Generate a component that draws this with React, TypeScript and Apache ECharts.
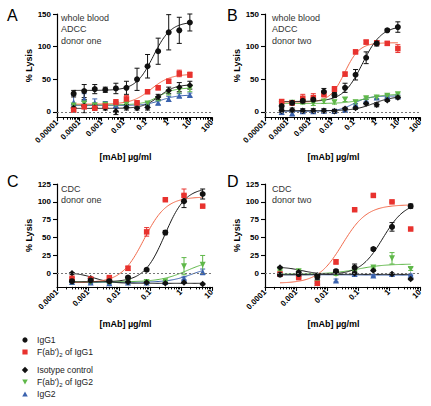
import React, { useEffect, useRef } from "react";
import * as echarts from "echarts";

// ---------- data ----------
const seriesNames = ["IgG1", "F(ab')2 of IgG1", "Isotype control", "F(ab')2 of IgG2", "IgG2"];

// concentrations (µg/ml)
const concAB = [0.0000565, 0.000169, 0.000508, 0.00152, 0.00457, 0.0137, 0.0412, 0.123, 0.37, 1.11, 3.33, 10];
const concCD = [0.000305, 0.00122, 0.00488, 0.0195, 0.078, 0.3125, 1.25, 5];

const xTickLabelsAB = ["0.00001", "0.0001", "0.001", "0.01", "0.1", "1", "10", "100"];
const xTickLabelsCD = ["0.0001", "0.001", "0.01", "0.1", "1", "10"];
const yTicksAB = [0, 50, 100, 150];
const yTicksCD = [0, 25, 50, 75, 100, 125];

// Panel A: whole blood ADCC donor one
const aIgG1 = [28, 32, 35, 34, 36, 37, 50, 70, 93, 122, 125, 137];
const aIgG1Err = [5, 10, 7, 4, 8, 10, 17, 18, 20, 27, 20, 13];
const aFab1 = [3, 8, 6, 9, 15, 20, 14, 31, 37, 47, 59, 57];
const aFab1Err = [3, 3, 3, 4, 4, 5, 3, 3, 3, 3, 5, 4];
const aIso = [6, 9, 7, 6, 1, 7, 6, 7, 23, 33, 38, 41];
const aIsoErr = [3, 10, 4, 3, 5, 4, 3, 4, 4, 5, 7, 6];
const aFab2 = [10, 13, 10, 11, 12, 12, 11, 13, 20, 30, 34, 36];
const aFab2Err = [3, 5, 4, 3, 3, 3, 3, 3, 3, 4, 5, 5];
const aIgG2 = [15, 20, 14, 12, 10, 11, 9, 11, 14, 20, 25, 26];
const aIgG2Err = [10, 8, 6, 4, 3, 3, 3, 3, 3, 4, 3, 3];
// fitted curves: [left plateau, right plateau, log10 EC50, Hill slope]
const aFits = [[33, 138, -0.65, 1.1], [12, 58, -0.75, 1.0], [5.5, 42, -0.4, 1.2], [11, 37, -0.4, 1.2], [10, 26, -0.3, 1.2]];

// Panel B: whole blood ADCC donor two
const bIgG1 = [9, 14, 17, 19, 31, 26, 37, 57, 83, 105, 125, 130];
const bIgG1Err = [5, 3, 3, 3, 5, 4, 7, 8, 9, 4, 2, 8];
const bFab1 = [16, 14, 21, 22, 27, 35, 58, 92, 107, 106, 105, 97];
const bFab1Err = [3, 3, 6, 6, 4, 4, 3, 3, 3, 3, 3, 6];
const bIso = [2, 3, 2, 2, 2, 1, 5, 6, 13, 11, 18, 22];
const bIsoErr = [3, 3, 3, 3, 3, 3, 2, 2, 2, 3, 2, 2];
const bFab2 = [12, 14, 15, 13, 16, 15, 19, 15, 21, 22, 25, 27];
const bFab2Err = [3, 3, 3, 3, 3, 3, 3, 3, 2, 2, 2, 2];
const bIgG2 = [0, -2, 1, 1, 2, 2, 3, 11, 17, 22, 24, 24];
const bIgG2Err = [4, 4, 3, 2, 2, 2, 2, 2, 2, 2, 2, 2];
const bFits = [[16, 132, -0.6, 1.0], [15, 106, -1.4, 1.3], [2, 24, -0.1, 1.0], [13, 27, -0.5, 1.0], [1, 24.5, -1.0, 1.3]];

// Panel C: CDC donor one
const cIgG1 = [-11, -10, -11, -6, 5, 57, 101, 111];
const cIgG1Err = [1, 1, 1, 2, 2, 3, 9, 7];
const cFab1 = [-7, -8, -6, 7, 58, 103, 109, 94];
const cFab1Err = [1, 1, 1, 3, 6, 1, 9, 1];
const cIso = [0, -7, -10, -12, -13, -14, -13, -15];
const cIsoErr = [1, 1, 1, 1, 1, 1, 1, 1];
const cFab2 = [-12, -12, -13, -12, -12, -11, 10, 12];
const cFab2Err = [1, 1, 1, 1, 1, 1, 12, 13];
const cIgG2 = [-12, -13, -14, -13, -13, -12, -7, 2];
const cIgG2Err = [1, 1, 1, 1, 1, 1, 2, 4];
const cFits = [[-12, 120, -0.52, 1.3], [-13, 107, -1.2, 1.2], [1, -14, -2.8, 1.5], [-12, 20, 0.2, 1.0], [-12.5, 10, 0.35, 1.2]];

// Panel D: CDC donor two
const dIgG1 = [-2, -1, -5, 3, 8, 34, 65, 94];
const dIgG1Err = [1, 1, 4, 2, 5, 2, 6, 3];
const dFab1 = [-1, -6, -14, 16, 89, 109, 100, 62];
const dFab1Err = [2, 1, 3, 3, 1, 1, 1, 1];
const dIso = [8, 2, -3, 2, 0, 4, -1, -8];
const dIsoErr = [1, 1, 1, 1, 1, 1, 1, 1];
const dFab2 = [3, 3, -14, -1, 3, 8, 21, 6];
const dFab2Err = [1, 2, 3, 2, 1, 1, 8, 2];
const dIgG2 = [-1, -1, -11, -10, -1, -3, -1, -2];
const dIgG2Err = [1, 1, 2, 2, 1, 1, 1, 1];
const dFits = [[-2, 100, -0.2, 1.2], [-14, 96, -1.5, 1.1], [9, -1.5, -2.8, 1.5], [-1, 13, -1.0, 1.0], [-2, -2.5, -1.0, 1.0]];

// ---------- styling ----------
const FONT = "Liberation Sans, Arial, Helvetica, sans-serif";
const COLORS = ["#111111", "#e8322e", "#111111", "#5fb849", "#3a62ae"];
const CURVE_COLORS = ["#1a1a1a", "#f26a4b", "#1a1a1a", "#5fb849", "#3a62ae"];
const SYMBOLS = ["circle", "rect", "diamond", "triangle", "triangle"];
const ROTATE = [0, 0, 0, 180, 0];
const SIZES = [6, 5.5, 6.5, 6, 6];

const panels = [
  {
    letter: "A", note: "whole blood\nADCC\ndonor one", conc: concAB, xLabels: xTickLabelsAB,
    expMin: -5, expMax: 2, xMin: 0.00001, xMax: 100, yMin: -8, yMax: 150, yTicks: yTicksAB,
    values: [aIgG1, aFab1, aIso, aFab2, aIgG2], errors: [aIgG1Err, aFab1Err, aIsoErr, aFab2Err, aIgG2Err], fits: aFits,
    grid: { left: 57, top: 14, width: 155, height: 103.2 }, letterPos: [7, 7], notePos: [61, 12], nameGap: 35,
  },
  {
    letter: "B", note: "whole blood\nADCC\ndonor two", conc: concAB, xLabels: xTickLabelsAB,
    expMin: -5, expMax: 2, xMin: 0.00001, xMax: 100, yMin: -8, yMax: 150, yTicks: yTicksAB,
    values: [bIgG1, bFab1, bIso, bFab2, bIgG2], errors: [bIgG1Err, bFab1Err, bIsoErr, bFab2Err, bIgG2Err], fits: bFits,
    grid: { left: 265, top: 14, width: 155, height: 103.2 }, letterPos: [227, 7], notePos: [272, 12], nameGap: 35,
  },
  {
    letter: "C", note: "CDC\ndonor one", conc: concCD, xLabels: xTickLabelsCD,
    expMin: -4, expMax: 1, xMin: 0.0001, xMax: 10, yMin: -19, yMax: 125, yTicks: yTicksCD,
    values: [cIgG1, cFab1, cIso, cFab2, cIgG2], errors: [cIgG1Err, cFab1Err, cIsoErr, cFab2Err, cIgG2Err], fits: cFits,
    grid: { left: 57, top: 184, width: 155, height: 102.9 }, letterPos: [7, 173], notePos: [61, 183], nameGap: 33,
  },
  {
    letter: "D", note: "CDC\ndonor two", conc: concCD, xLabels: xTickLabelsCD,
    expMin: -4, expMax: 1, xMin: 0.0001, xMax: 10, yMin: -19, yMax: 125, yTicks: yTicksCD,
    values: [dIgG1, dFab1, dIso, dFab2, dIgG2], errors: [dIgG1Err, dFab1Err, dIsoErr, dFab2Err, dIgG2Err], fits: dFits,
    grid: { left: 265, top: 184, width: 155, height: 102.9 }, letterPos: [227, 173], notePos: [272, 183], nameGap: 33,
  },
];

// legend rows (screen layout)
const legendRowsY = [340, 352, 370, 382, 394];

function logistic(fit: number[], x: number) {
  const [left, right, logEC50, hill] = fit;
  return left + (right - left) / (1 + Math.pow(10, (logEC50 - Math.log10(x)) * hill));
}

function curvePoints(conc: number[], fit: number[]) {
  const lo = Math.log10(conc[0]);
  const hi = Math.log10(conc[conc.length - 1]);
  const pts: number[][] = [];
  const n = 120;
  for (let k = 0; k <= n; k++) {
    const x = Math.pow(10, lo + ((hi - lo) * k) / n);
    pts.push([x, logistic(fit, x)]);
  }
  return pts;
}

function minorTicks(expMin: number, expMax: number) {
  const out: number[] = [];
  for (let d = expMin; d < expMax; d++) {
    for (let k = 2; k <= 9; k++) out.push(d + Math.log10(k));
  }
  return out;
}

function legendMarker(s: number, cx: number, cy: number) {
  const fill = COLORS[s];
  const r = 2.6;
  if (s === 0) return { type: "circle", shape: { cx, cy, r }, style: { fill } };
  if (s === 1) return { type: "rect", shape: { x: cx - r, y: cy - r, width: 2 * r, height: 2 * r }, style: { fill } };
  if (s === 2)
    return { type: "polygon", shape: { points: [[cx, cy - 3.2], [cx + 3.2, cy], [cx, cy + 3.2], [cx - 3.2, cy]] }, style: { fill } };
  if (s === 3)
    return { type: "polygon", shape: { points: [[cx - 2.8, cy - 2.4], [cx + 2.8, cy - 2.4], [cx, cy + 2.6]] }, style: { fill } };
  return { type: "polygon", shape: { points: [[cx, cy - 2.6], [cx + 2.8, cy + 2.4], [cx - 2.8, cy + 2.4]] }, style: { fill } };
}

function buildOption() {
  const axisColor = "#000";
  const grid: any[] = [];
  const xAxis: any[] = [];
  const yAxis: any[] = [];
  const series: any[] = [];
  const graphic: any[] = [];

  panels.forEach((p, i) => {
    grid.push({ ...p.grid });
    xAxis.push({
      type: "log", logBase: 10, gridIndex: i, min: p.xMin, max: p.xMax, position: "bottom",
      axisLine: { show: true, onZero: false, lineStyle: { color: axisColor, width: 1.2 } },
      axisTick: { show: true, length: 4, lineStyle: { color: axisColor, width: 1.1 } },
      axisLabel: {
        rotate: 45, fontSize: 8, fontWeight: "bold", color: "#000", margin: 4, fontFamily: FONT,
        formatter: (v: number) => p.xLabels[Math.round(Math.log10(v)) - p.expMin] ?? "",
      },
      splitLine: { show: false },
      name: "[mAb] µg/ml", nameLocation: "middle", nameGap: p.nameGap,
      nameTextStyle: { fontSize: 9, fontWeight: "bold", color: "#000", fontFamily: FONT, padding: [0, 18, 0, 0] },
    });
    xAxis.push({
      type: "value", gridIndex: i, min: p.expMin, max: p.expMax, position: "bottom",
      axisLine: { show: false, onZero: false },
      axisLabel: { show: false },
      axisTick: { show: true, length: 2.5, customValues: minorTicks(p.expMin, p.expMax), lineStyle: { color: axisColor, width: 1 } },
      splitLine: { show: false },
    });
    yAxis.push({
      type: "value", gridIndex: i, min: p.yMin, max: p.yMax,
      axisLine: { show: true, onZero: false, lineStyle: { color: axisColor, width: 1.2 } },
      axisTick: { show: true, length: 4, customValues: p.yTicks, lineStyle: { color: axisColor, width: 1.1 } },
      axisLabel: { customValues: p.yTicks, fontSize: 8, fontWeight: "bold", color: "#000", margin: 6, fontFamily: FONT },
      splitLine: { show: false },
      name: "% Lysis", nameLocation: "middle", nameGap: 19,
      nameTextStyle: { fontSize: 9, fontWeight: "bold", color: "#000", fontFamily: FONT },
    });

    const xi = 2 * i;
    for (let s = 4; s >= 0; s--) {
      const vals = p.values[s];
      const errs = p.errors[s];
      series.push({
        type: "line", name: seriesNames[s] + " fit " + p.letter, xAxisIndex: xi, yAxisIndex: i,
        data: curvePoints(p.conc, p.fits[s]), showSymbol: false, symbol: "none", silent: true,
        lineStyle: { color: CURVE_COLORS[s], width: 1 }, z: 2, clip: false,
      });
      const color = COLORS[s];
      series.push({
        type: "custom", name: seriesNames[s] + " err " + p.letter, xAxisIndex: xi, yAxisIndex: i, silent: true, z: 3,
        data: p.conc.map((c, k) => [c, vals[k] - errs[k], vals[k] + errs[k]]),
        encode: { x: 0, y: [1, 2] },
        renderItem: (_params: any, api: any) => {
          const x = api.value(0);
          const lo = api.coord([x, api.value(1)]);
          const hi = api.coord([x, api.value(2)]);
          const w = 2.5;
          const style = { stroke: color, lineWidth: 1 };
          return {
            type: "group",
            children: [
              { type: "line", shape: { x1: lo[0], y1: lo[1], x2: hi[0], y2: hi[1] }, style },
              { type: "line", shape: { x1: lo[0] - w, y1: lo[1], x2: lo[0] + w, y2: lo[1] }, style },
              { type: "line", shape: { x1: hi[0] - w, y1: hi[1], x2: hi[0] + w, y2: hi[1] }, style },
            ],
          };
        },
      });
    }
    for (let s = 4; s >= 0; s--) {
      const vals = p.values[s];
      const sObj: any = {
        type: "scatter", name: seriesNames[s], xAxisIndex: xi, yAxisIndex: i,
        data: p.conc.map((c, k) => [c, vals[k]]),
        symbol: SYMBOLS[s], symbolSize: SIZES[s], symbolRotate: ROTATE[s],
        itemStyle: { color: COLORS[s], opacity: 1 }, z: 4,
      };
      if (s === 4) {
        sObj.markLine = {
          silent: true, symbol: ["none", "none"], label: { show: false },
          lineStyle: { color: "#777", type: [2, 2], width: 1 },
          data: [{ yAxis: 0 }],
        };
      }
      series.push(sObj);
    }

    graphic.push({
      type: "text", left: p.letterPos[0], top: p.letterPos[1],
      style: { text: p.letter, fontSize: 16, fontFamily: FONT, fill: "#000" },
    });
    graphic.push({
      type: "text", left: p.notePos[0], top: p.notePos[1],
      style: { text: p.note, fontSize: 9, lineHeight: 11.5, fontFamily: FONT, fill: "#333" },
    });
  });

  // legend drawn as marker + text rows
  seriesNames.forEach((name, s) => {
    const y = legendRowsY[s];
    graphic.push(legendMarker(s, 25, y));
    graphic.push({
      type: "text", x: 37, y,
      style: {
        text: name.replace("')2", "'){sub|2}"),
        fontSize: 8.6, fontFamily: FONT, fill: "#222", verticalAlign: "middle", lineHeight: 12,
        rich: { sub: { fontSize: 6, fontFamily: FONT, fill: "#222", verticalAlign: "bottom", lineHeight: 7 } },
      },
    });
  });

  return {
    animation: false,
    textStyle: { fontFamily: FONT },
    grid, xAxis, yAxis, series, graphic,
  };
}

export default function App() {
  const ref = useRef<HTMLDivElement>(null);
  useEffect(() => {
    if (!ref.current) return;
    const chart = echarts.init(ref.current, undefined, { renderer: "svg" });
    chart.setOption(buildOption() as any);
    return () => chart.dispose();
  }, []);
  return (
    <div
      ref={ref}
      style={{ position: "fixed", left: 0, top: 0, width: 431, height: 406, background: "#fff" }}
    />
  );
}
